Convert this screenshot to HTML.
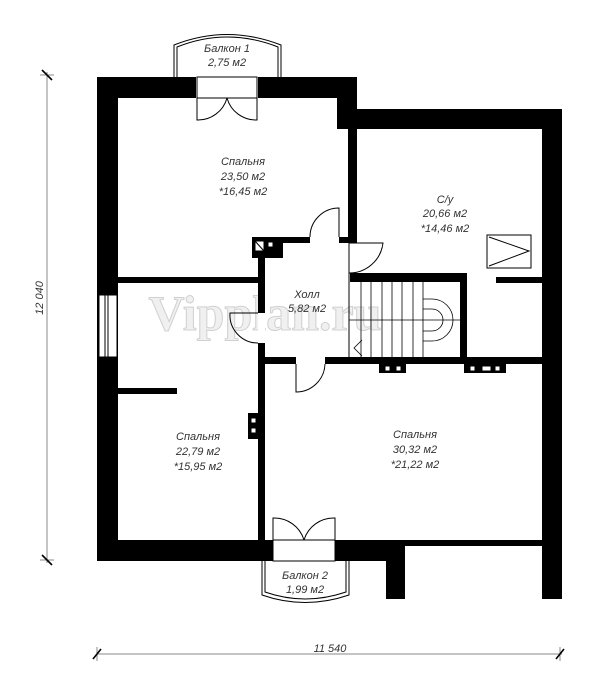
<!DOCTYPE html>
<html><head><meta charset="utf-8"><style>
html,body{margin:0;padding:0;background:#fff;}
svg{display:block}
.t{font-family:"Liberation Sans Narrow","Liberation Sans",sans-serif;font-style:italic;font-size:11px;fill:#333;text-anchor:middle}
</style></head><body>
<svg width="600" height="682" viewBox="0 0 600 682" xmlns="http://www.w3.org/2000/svg">
<rect width="600" height="682" fill="#fff"/>
<text x="265" y="330" font-family="Liberation Serif,serif" font-size="50" font-weight="bold" fill="#f0f0f0" stroke="#d0d0d0" stroke-width="1" text-anchor="middle">Vipplan.ru</text>
<g fill="#000">
<rect x="97" y="77" width="260" height="21"/>
<rect x="337" y="77" width="20" height="52"/>
<rect x="337" y="109" width="225" height="20"/>
<rect x="542" y="109" width="20" height="490"/>
<rect x="97" y="77" width="21" height="484"/>
<rect x="97" y="540" width="308" height="21"/>
<rect x="386" y="540" width="19" height="59"/>
<rect x="405" y="540" width="137" height="6"/>
<rect x="348" y="98" width="9" height="145"/>
<rect x="118" y="277" width="140" height="6"/>
<rect x="258" y="237" width="7" height="304"/>
<rect x="252" y="237" width="31" height="21"/>
<rect x="252" y="237" width="58" height="6"/>
<rect x="339" y="237" width="18" height="6"/>
<rect x="350" y="273" width="117" height="9"/>
<rect x="460" y="273" width="7" height="91"/>
<rect x="496" y="277" width="46" height="6"/>
<rect x="265" y="357" width="277" height="7"/>
<rect x="379" y="364" width="27" height="9"/>
<rect x="464" y="364" width="42" height="9"/>
<rect x="248" y="413" width="10" height="26"/>
<rect x="118" y="388" width="59" height="6"/>
</g>
<g fill="#fff">
<rect x="196" y="77" width="62" height="21"/>
<rect x="273" y="540" width="62" height="21"/>
<rect x="258" y="313" width="7" height="30"/>
<rect x="296" y="357" width="29" height="7"/>
<rect x="99" y="295" width="18" height="62"/>
<rect x="310" y="237" width="29" height="6"/>
</g>
<g fill="none" stroke="#000" stroke-width="1">
<line x1="105" y1="295" x2="105" y2="357"/><line x1="108" y1="295" x2="108" y2="357"/>
<rect x="99" y="295" width="18" height="62"/>
<path d="M174 77 V45 Q227 24 281 45 V77"/>
<path d="M177 77 V47 Q227 27 278 47 V77"/>
<rect x="197" y="77" width="60" height="21"/>
<path d="M197 98 V120 A30 30 0 0 0 227 98"/>
<path d="M257 98 V120 A30 30 0 0 1 227 98"/>
<path d="M262 561 V595 Q305 610 349 595 V561"/>
<path d="M265 561 V592 Q305 606 346 592 V561"/>
<rect x="273" y="540" width="62" height="21"/>
<path d="M273 540 V518 A31 31 0 0 1 304 540"/>
<path d="M335 540 V518 A31 31 0 0 0 304 540"/>
<path d="M339 237 V208 A29 29 0 0 0 310 237"/>
<path d="M349 243 V273 A34 34 0 0 0 383 243 Z"/>
<path d="M258 313 H230 A28 28 0 0 0 258 343"/>
<path d="M296 364 V392 A29 29 0 0 0 325 364"/>
<line x1="349" y1="243" x2="349" y2="357"/>
<rect x="255" y="241" width="9" height="10" fill="#fff"/><line x1="255" y1="241" x2="264" y2="251"/>
<rect x="268" y="242" width="5" height="5" fill="#fff"/>
<g stroke-width="0.8">
<line x1="361" y1="282" x2="361" y2="357"/><line x1="371" y1="282" x2="371" y2="357"/>
<line x1="382" y1="282" x2="382" y2="357"/><line x1="392" y1="282" x2="392" y2="357"/>
<line x1="402" y1="282" x2="402" y2="357"/><line x1="413" y1="282" x2="413" y2="357"/>
<line x1="423" y1="282" x2="423" y2="357"/>
<line x1="349" y1="320" x2="423" y2="320"/>
<path d="M423 299 H432 A21 21 0 0 1 432 341 H423"/>
<path d="M423 309 H432 A11 11 0 0 1 432 331 H423"/>
<line x1="423" y1="320" x2="460" y2="320"/>
<path d="M362 340 L354 348 L362 356"/>
</g>
<rect x="487" y="235" width="44" height="33"/>
<path d="M489 237 L529 251 L489 266"/>
<rect x="385" y="366" width="5" height="5" fill="#fff"/><rect x="396" y="366" width="5" height="5" fill="#fff"/>
<rect x="470" y="366" width="5" height="5" fill="#fff"/><rect x="482" y="366" width="9" height="5" fill="#fff"/><rect x="495" y="366" width="5" height="5" fill="#fff"/>
<rect x="251" y="418" width="5" height="5" fill="#fff"/><rect x="251" y="428" width="5" height="5" fill="#fff"/>
</g>
<g stroke="#888" stroke-width="1">
<line x1="47" y1="72" x2="47" y2="563"/>
<line x1="97" y1="654" x2="562" y2="654"/>
<line x1="40" y1="75" x2="54" y2="75"/><line x1="40" y1="560" x2="54" y2="560"/>
<line x1="97" y1="647" x2="97" y2="661"/><line x1="560" y1="647" x2="560" y2="661"/>
</g>
<g stroke="#000" stroke-width="1.6">
<line x1="42" y1="70" x2="52" y2="80"/><line x1="42" y1="555" x2="52" y2="565"/>
<line x1="93" y1="659" x2="101" y2="649"/><line x1="556" y1="659" x2="564" y2="649"/>
</g>
<text class="t" x="330" y="652">11 540</text>
<text class="t" transform="translate(43,298) rotate(-90)">12 040</text>
<text class="t" x="227" y="52">Балкон 1</text>
<text class="t" x="227" y="66">2,75 м2</text>
<text class="t" x="243" y="165">Спальня</text>
<text class="t" x="243" y="180">23,50 м2</text>
<text class="t" x="243" y="195">*16,45 м2</text>
<text class="t" x="445" y="203">С/у</text>
<text class="t" x="445" y="217">20,66 м2</text>
<text class="t" x="445" y="232">*14,46 м2</text>
<text class="t" x="307" y="298">Холл</text>
<text class="t" x="307" y="312">5,82 м2</text>
<text class="t" x="198" y="440">Спальня</text>
<text class="t" x="198" y="455">22,79 м2</text>
<text class="t" x="198" y="470">*15,95 м2</text>
<text class="t" x="415" y="438">Спальня</text>
<text class="t" x="415" y="453">30,32 м2</text>
<text class="t" x="415" y="468">*21,22 м2</text>
<text class="t" x="305" y="579">Балкон 2</text>
<text class="t" x="305" y="593">1,99 м2</text>
</svg>
</body></html>
